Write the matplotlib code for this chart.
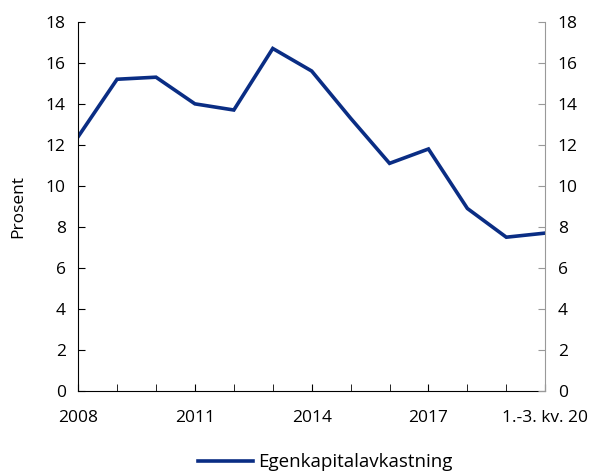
import numpy as np
import matplotlib.pyplot as plt

plt.rcParams['font.family'] = ['Open Sans', 'DejaVu Sans']

years = list(range(2008, 2021))
roe = [12.4, 15.2, 15.3, 14.0, 13.7, 16.7, 15.6, 13.3, 11.1, 11.8, 8.9, 7.5, 7.7]
tick_years = [2008, 2011, 2014, 2017, 2020]
tick_labels = ["2008", "2011", "2014", "2017", "1.-3. kv. 20"]

fig, ax = plt.subplots(figsize=(5.92, 4.74), dpi=100)
fig.subplots_adjust(left=0.132, right=0.921, top=0.954, bottom=0.175)

ax.plot(years, roe, color="#0a2d84", lw=2.6, label="Egenkapitalavkastning", solid_joinstyle="miter")

ax.set_xlim(2008, 2020)
ax.set_ylim(0, 18)
ax.set_yticks(np.arange(0, 19, 2))
ax.set_xticks(years, minor=True)
ax.set_xticks(tick_years)
ax.set_xticklabels(tick_labels)
ax.set_ylabel("Prosent", fontsize=12.5, labelpad=14)

ax.tick_params(axis="both", labelsize=12.5, direction="in", length=5, color="black")
ax.tick_params(axis="x", which="both", direction="in", length=5, pad=14)
ax.tick_params(axis="y", pad=9)
ax.spines["top"].set_visible(False)
ax.spines["right"].set_visible(False)

ax2 = ax.twinx()
ax2.set_ylim(0, 18)
ax2.set_yticks(np.arange(0, 19, 2))
ax2.tick_params(axis="y", labelsize=12.5, direction="in", length=5, color="#999999", pad=9)
for s in ["top", "left", "bottom"]:
    ax2.spines[s].set_visible(False)
ax2.spines["right"].set_color("#999999")

fig.legend(loc="lower center", bbox_to_anchor=(0.55, -0.03), frameon=False, fontsize=13.5,
           handlelength=2.9, handletextpad=0.3)

fig.savefig("out.png", dpi=100)
